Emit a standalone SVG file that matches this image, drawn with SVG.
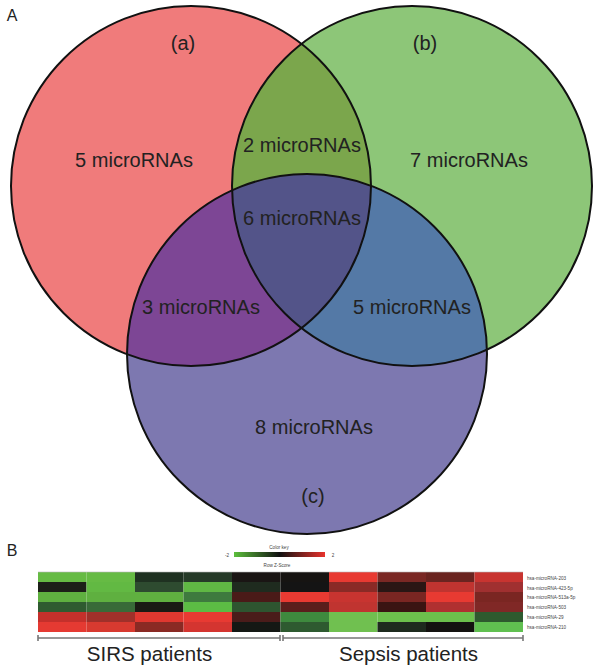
<svg xmlns="http://www.w3.org/2000/svg" width="600" height="668" viewBox="0 0 600 668">
<style>
.t{font-family:"Liberation Sans",Arial,sans-serif;fill:#222;text-anchor:middle}
.v{font-size:20px}
.p{font-size:20.5px}
.s{font-family:"Liberation Sans",Arial,sans-serif;fill:#444;font-size:4.6px}
.ring{fill:none;stroke:#111;stroke-width:2}
.br{stroke:#777;stroke-width:1.6;fill:none}
</style>
<defs>
<clipPath id="ca"><circle cx="191" cy="186" r="180"/></clipPath>
<clipPath id="cb"><circle cx="412" cy="186" r="180"/></clipPath>
<linearGradient id="key" x1="0" x2="1" y1="0" y2="0">
<stop offset="0" stop-color="#5cbf3c"/><stop offset="0.5" stop-color="#111"/><stop offset="1" stop-color="#e8322c"/>
</linearGradient>
</defs>
<rect width="600" height="668" fill="#fff"/>
<text class="t" x="12" y="21" style="font-size:16px">A</text>
<text class="t" x="12" y="556" style="font-size:16px">B</text>
<g id="set-a"><circle cx="191" cy="186" r="180" fill="#f07b7b"/></g>
<g id="set-b"><circle cx="412" cy="186" r="180" fill="#8dc678"/></g>
<g id="set-c"><circle cx="307" cy="354" r="180" fill="#7d78b0"/></g>
<g id="overlap-ab" clip-path="url(#ca)"><circle cx="412" cy="186" r="180" fill="#7ba64c"/></g>
<g id="overlap-ac" clip-path="url(#ca)"><circle cx="307" cy="354" r="180" fill="#7d4695"/></g>
<g id="overlap-bc" clip-path="url(#cb)"><circle cx="307" cy="354" r="180" fill="#5479a6"/></g>
<g id="overlap-abc" clip-path="url(#ca)"><g clip-path="url(#cb)"><circle cx="307" cy="354" r="180" fill="#535489"/></g></g>
<g id="outlines">
<circle class="ring" cx="191" cy="186" r="180"/>
<circle class="ring" cx="412" cy="186" r="180"/>
<circle class="ring" cx="307" cy="354" r="180"/>
</g>
<g id="labels">
<text class="t v" x="183" y="50">(a)</text>
<text class="t v" x="425" y="50">(b)</text>
<text class="t v" x="313" y="503">(c)</text>
<text class="t v" x="134" y="167">5 microRNAs</text>
<text class="t v" x="302" y="152">2 microRNAs</text>
<text class="t v" x="469" y="167">7 microRNAs</text>
<text class="t v" x="302" y="225">6 microRNAs</text>
<text class="t v" x="201" y="314">3 microRNAs</text>
<text class="t v" x="412" y="314">5 microRNAs</text>
<text class="t v" x="314" y="434">8 microRNAs</text>
</g>
<g id="colorkey">
<text class="s" x="279" y="549" text-anchor="middle">Color key</text>
<rect x="234" y="552" width="91" height="5" fill="url(#key)"/>
<text class="s" x="227" y="556.5" text-anchor="middle">-2</text>
<text class="s" x="333" y="556.5" text-anchor="middle">2</text>
<text class="s" x="277" y="567" text-anchor="middle">Row Z-Score</text>
</g>
<g id="heatmap">
<!-- col1 -->
<rect x="38" y="572" width="48.5" height="10" fill="#66bb44"/>
<rect x="38" y="582" width="48.5" height="10" fill="#1c1f18"/>
<rect x="38" y="592" width="48.5" height="10" fill="#5fb040"/>
<rect x="38" y="602" width="48.5" height="10" fill="#2f5b30"/>
<rect x="38" y="612" width="48.5" height="10" fill="#c4302b"/>
<rect x="38" y="622" width="48.5" height="10" fill="#e53a32"/>
<!-- col2 -->
<rect x="86.5" y="572" width="48.5" height="10" fill="#66bb44"/>
<rect x="86.5" y="582" width="48.5" height="10" fill="#62b943"/>
<rect x="86.5" y="592" width="48.5" height="10" fill="#5fb040"/>
<rect x="86.5" y="602" width="48.5" height="10" fill="#386a38"/>
<rect x="86.5" y="612" width="48.5" height="10" fill="#a0302a"/>
<rect x="86.5" y="622" width="48.5" height="10" fill="#d83a30"/>
<!-- col3 -->
<rect x="135" y="572" width="48.5" height="10" fill="#1f3121"/>
<rect x="135" y="582" width="48.5" height="10" fill="#2e4b30"/>
<rect x="135" y="592" width="48.5" height="10" fill="#60b040"/>
<rect x="135" y="602" width="48.5" height="10" fill="#1a1a14"/>
<rect x="135" y="612" width="48.5" height="10" fill="#e03830"/>
<rect x="135" y="622" width="48.5" height="10" fill="#8a2a24"/>
<!-- col4 -->
<rect x="183.5" y="572" width="48.5" height="10" fill="#263a28"/>
<rect x="183.5" y="582" width="48.5" height="10" fill="#60b844"/>
<rect x="183.5" y="592" width="48.5" height="10" fill="#3e7a3e"/>
<rect x="183.5" y="602" width="48.5" height="10" fill="#5cbc44"/>
<rect x="183.5" y="612" width="48.5" height="10" fill="#e83a32"/>
<rect x="183.5" y="622" width="48.5" height="10" fill="#d43530"/>
<!-- col5 -->
<rect x="232" y="572" width="48.5" height="10" fill="#1a1514"/>
<rect x="232" y="582" width="48.5" height="10" fill="#1f2b1f"/>
<rect x="232" y="592" width="48.5" height="10" fill="#4a1a18"/>
<rect x="232" y="602" width="48.5" height="10" fill="#2e5530"/>
<rect x="232" y="612" width="48.5" height="10" fill="#4a1c1a"/>
<rect x="232" y="622" width="48.5" height="10" fill="#141814"/>
<!-- col6 -->
<rect x="280.5" y="572" width="48.5" height="10" fill="#161412"/>
<rect x="280.5" y="582" width="48.5" height="10" fill="#141414"/>
<rect x="280.5" y="592" width="48.5" height="10" fill="#e83a32"/>
<rect x="280.5" y="602" width="48.5" height="10" fill="#5a1e1c"/>
<rect x="280.5" y="612" width="48.5" height="10" fill="#3e8a3e"/>
<rect x="280.5" y="622" width="48.5" height="10" fill="#2e5a30"/>
<!-- col7 -->
<rect x="329" y="572" width="48.5" height="10" fill="#e83a32"/>
<rect x="329" y="582" width="48.5" height="10" fill="#8a2a26"/>
<rect x="329" y="592" width="48.5" height="10" fill="#c83430"/>
<rect x="329" y="602" width="48.5" height="10" fill="#c03430"/>
<rect x="329" y="612" width="48.5" height="10" fill="#70c050"/>
<rect x="329" y="622" width="48.5" height="10" fill="#70c050"/>
<!-- col8 -->
<rect x="377.5" y="572" width="48.5" height="10" fill="#7a2824"/>
<rect x="377.5" y="582" width="48.5" height="10" fill="#2a1614"/>
<rect x="377.5" y="592" width="48.5" height="10" fill="#7a2622"/>
<rect x="377.5" y="602" width="48.5" height="10" fill="#3a1412"/>
<rect x="377.5" y="612" width="48.5" height="10" fill="#6cc04c"/>
<rect x="377.5" y="622" width="48.5" height="10" fill="#1e2a1e"/>
<!-- col9 -->
<rect x="426" y="572" width="48.5" height="10" fill="#6a2420"/>
<rect x="426" y="582" width="48.5" height="10" fill="#c03430"/>
<rect x="426" y="592" width="48.5" height="10" fill="#e83a32"/>
<rect x="426" y="602" width="48.5" height="10" fill="#b03030"/>
<rect x="426" y="612" width="48.5" height="10" fill="#6cc04c"/>
<rect x="426" y="622" width="48.5" height="10" fill="#141210"/>
<!-- col10 -->
<rect x="474.5" y="572" width="48.5" height="10" fill="#c83430"/>
<rect x="474.5" y="582" width="48.5" height="10" fill="#a03030"/>
<rect x="474.5" y="592" width="48.5" height="10" fill="#7a2622"/>
<rect x="474.5" y="602" width="48.5" height="10" fill="#802826"/>
<rect x="474.5" y="612" width="48.5" height="10" fill="#2e5a2e"/>
<rect x="474.5" y="622" width="48.5" height="10" fill="#60c050"/>
<line x1="38" y1="572" x2="523" y2="572" stroke="#bbb" stroke-width="0.6"/>
</g>
<g id="rowlabels">
<text class="s" x="527" y="579.5">hsa-microRNA-203</text>
<text class="s" x="527" y="589.5">hsa-microRNA-423-5p</text>
<text class="s" x="527" y="599">hsa-microRNA-513a-5p</text>
<text class="s" x="527" y="609">hsa-microRNA-503</text>
<text class="s" x="527" y="619">hsa-microRNA-29</text>
<text class="s" x="527" y="628.5">hsa-microRNA-210</text>
</g>
<g id="brackets">
<path class="br" d="M38 638H280M38 635V641M280 635V641"/>
<path class="br" d="M283 638H523M283 635V641M523 635V641"/>
</g>
<g id="groups">
<text class="t p" x="149.5" y="661">SIRS patients</text>
<text class="t p" x="408.5" y="661">Sepsis patients</text>
</g>
</svg>
